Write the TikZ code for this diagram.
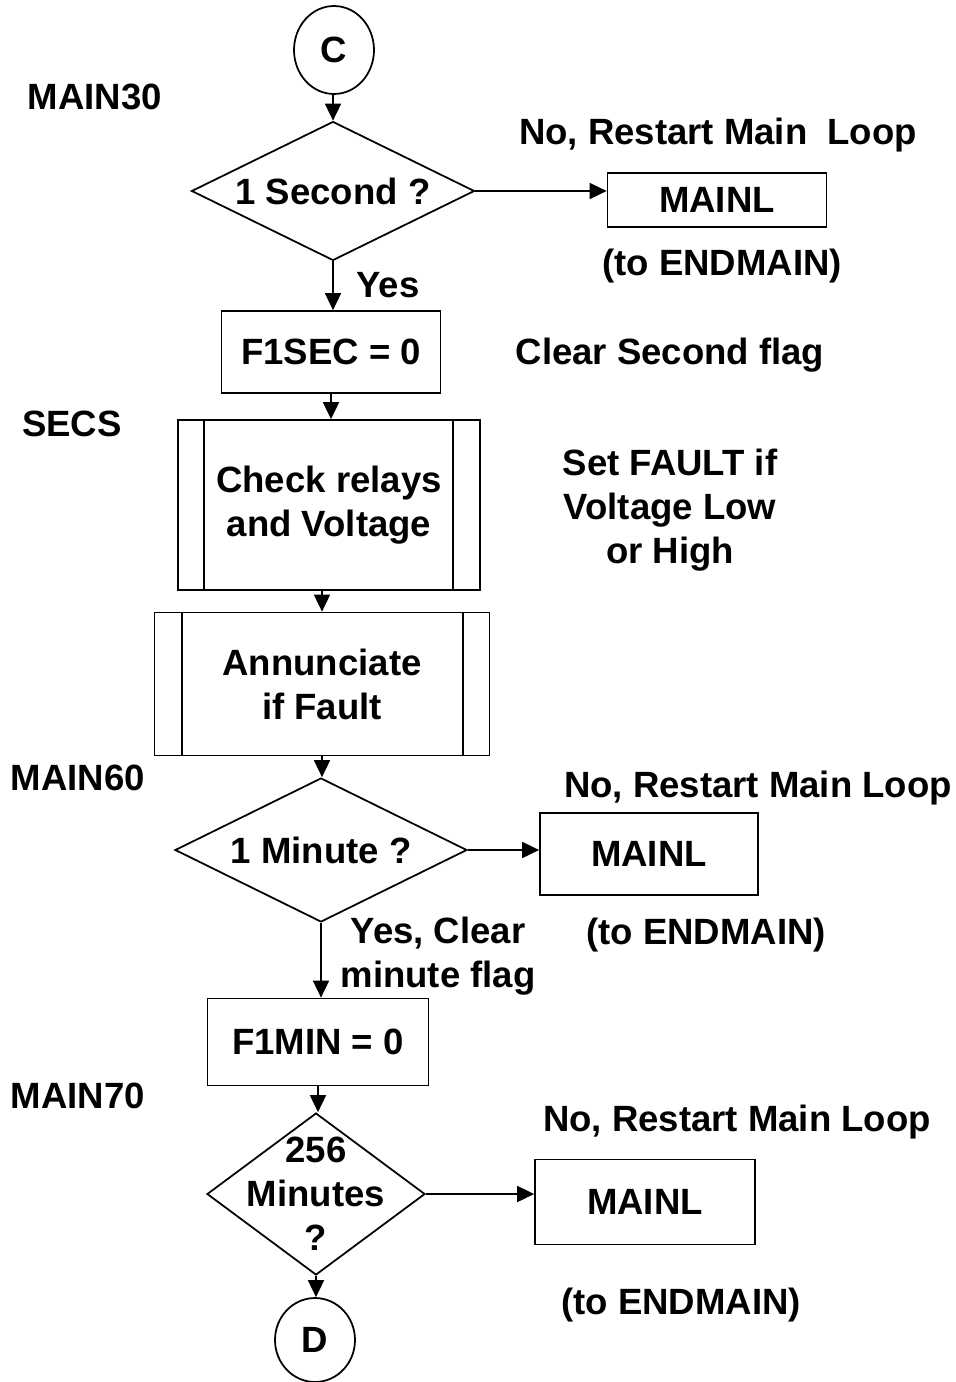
\documentclass[tikz,border=0pt]{standalone}
\usepackage{fontspec}
\setmainfont{Liberation Sans}
\usepackage{tikz}
\usetikzlibrary{shapes.geometric, calc, arrows.meta}
\tikzset{every node/.append style={font=\bfseries\fontsize{20.8}{25}\selectfont}}
\tikzset{
  box/.style={draw, rectangle, inner sep=0pt},
  decision/.style={draw, diamond, inner sep=0pt, aspect=2.04},
  connector/.style={draw, ellipse, inner sep=0pt, minimum width=1.6cm},
  note/.style={align=center, inner sep=0pt}
}

\begin{document}
\begin{tikzpicture}[x=0.02cm, y=-0.02cm, line width=1pt, >={Triangle[length=0.34cm, width=0.32cm]}]
    \useasboundingbox (0,0) rectangle (956,1382);
    \node[connector, minimum height=1.76cm] (C) at (334,50) {C};
    \node[decision, minimum width=5.66cm, minimum height=2.78cm] (sec) at (333,191) {1 Second ?};
    \node[box, minimum width=4.38cm, minimum height=1.08cm] (mainlA) at (717,200) {MAINL};
    \node[box, minimum width=4.38cm, minimum height=1.64cm] (fsec) at (331,352) {F1SEC = 0};
    \node[box, minimum width=6.04cm, minimum height=3.4cm, align=center] (chk) at (329,505) {Check relays\\and Voltage};
    \node[box, minimum width=6.7cm, minimum height=2.86cm, align=center] (ann) at (322,684) {Annunciate\\if Fault};
    \node[decision, minimum width=5.84cm, minimum height=2.88cm] (mnt) at (321,850) {1 Minute ?};
    \node[box, minimum width=4.36cm, minimum height=1.64cm] (mainlB) at (649,854) {MAINL};
    \node[box, minimum width=4.42cm, minimum height=1.74cm] (fmin) at (318,1042) {F1MIN = 0};
    \node[decision, aspect=1.35, minimum width=4.36cm, minimum height=3.24cm,
          label={[align=center]center:{256\\Minutes\\?}}] (hrs) at (316,1194) {};
    \node[box, minimum width=4.4cm, minimum height=1.7cm] (mainlC) at (645,1202) {MAINL};
    \node[connector, minimum height=1.68cm] (D) at (315,1340) {D};

    \draw (chk.north west) ++(27,0) coordinate (chkA) -- (chkA |- chk.south);
    \draw (chk.north east) ++(-28,0) coordinate (chkB) -- (chkB |- chk.south);
    \draw (ann.north west) ++(28,0) coordinate (annA) -- (annA |- ann.south);
    \draw (ann.north east) ++(-27,0) coordinate (annB) -- (annB |- ann.south);

    \draw[->] (C.south -| sec.north) -- (sec.north);
    \draw[->] (sec.south) -- (sec.south |- fsec.north);
    \draw[->] (fsec.south) -- (fsec.south |- chk.north);
    \draw[->] (ann.north |- chk.south) -- (ann.north);
    \draw[->] (ann.south) -- (ann.south |- mnt.north);
    \draw[->] (mnt.south) -- (mnt.south |- fmin.north);
    \draw[->] (fmin.south) -- (fmin.south |- hrs.north);
    \draw[->] (hrs.south) -- (hrs.south |- D.north);
    \draw[->] (sec.east) -- (sec.east -| mainlA.west);
    \draw[->] (mnt.east) -- (mnt.east -| mainlB.west);
    \draw[->] (hrs.east) -- (hrs.east -| mainlC.west);

    \node[note] (lmainA) at (95,97) {MAIN30};
    \node[note] (noA) at (718,135) {No, Restart Main \ Loop};
    \node[note] (endA) at (722,266) {(to ENDMAIN)};
    \node[note] (yesA) at (388,285) {Yes};
    \node[note] (clrA) at (670,355) {Clear Second flag};
    \node[note] (lsecs) at (72,424) {SECS};
    \node[note] (fault) at (670,510) {Set FAULT if\\Voltage Low\\or High};
    \node[note] (lmainB) at (78,778) {MAIN60};
    \node[note] (noB) at (758,788) {No, Restart Main Loop};
    \node[note] (endB) at (706,935) {(to ENDMAIN)};
    \node[note] (yesB) at (438,956) {Yes, Clear\\minute flag};
    \node[note] (lmainC) at (78,1096) {MAIN70};
    \node[note] (noC) at (737,1122) {No, Restart Main Loop};
    \node[note] (endC) at (681,1305) {(to ENDMAIN)};
\end{tikzpicture}
\end{document}
